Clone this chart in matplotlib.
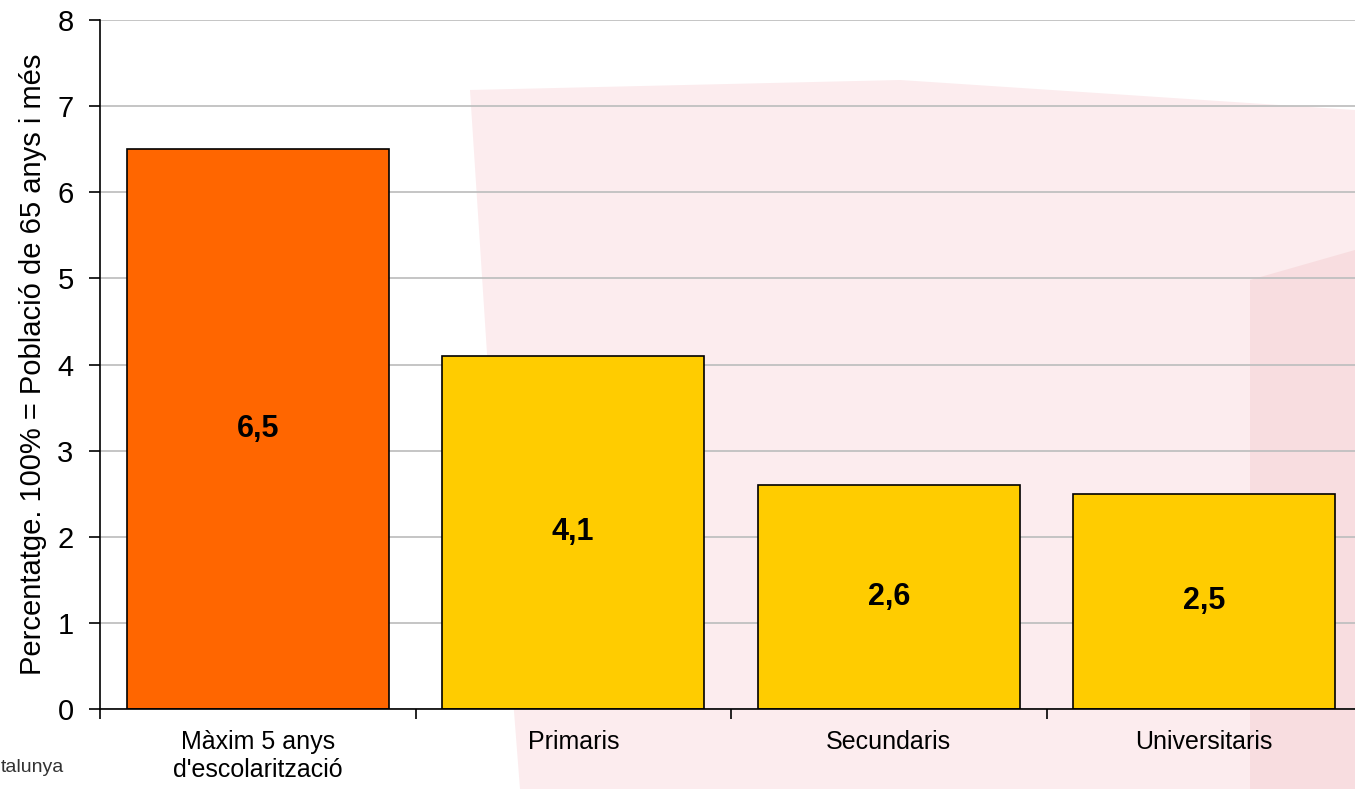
import matplotlib.pyplot as plt
from matplotlib.patches import Polygon

categories = ["Màxim 5 anys\nd'escolarització", "Primaris", "Secundaris", "Universitaris"]
values = [6.5, 4.1, 2.6, 2.5]
value_labels = ["6,5", "4,1", "2,6", "2,5"]
bar_colors = ["#FF6600", "#FFCC00", "#FFCC00", "#FFCC00"]

plt.rcParams['font.family'] = ['Liberation Sans', 'DejaVu Sans']

W, H = 1355, 789
fig = plt.figure(figsize=(W / 100, H / 100), dpi=100)
fig.patch.set_facecolor('white')

# faded watermark behind the plot (figure pixel coords, y from top)
def px(pts):
    return [(x / W, 1 - y / H) for x, y in pts]

fig.patches.append(Polygon(px([(470, 90), (900, 80), (1355, 110), (1355, 789),
                               (520, 789), (490, 400)]),
                           closed=True, transform=fig.transFigure,
                           facecolor='#fcecee', edgecolor='none', zorder=-2))
fig.patches.append(Polygon(px([(1250, 280), (1355, 250), (1355, 789), (1250, 789)]),
                           closed=True, transform=fig.transFigure,
                           facecolor='#f8dde0', edgecolor='none', zorder=-1))

ax = fig.add_axes([100 / W, 80 / H, 1262 / W, 689 / H])
ax.set_facecolor('none')

x = list(range(len(categories)))
ax.bar(x, values, width=0.83, color=bar_colors, edgecolor='black', linewidth=1.2, zorder=3)

for xi, v, lab in zip(x, values, value_labels):
    ax.text(xi, v / 2, lab, ha='center', va='center', fontsize=22,
            fontweight='bold', color='black', zorder=4)

ax.set_xlim(-0.5, 3.5)
ax.set_ylim(0, 8)
ax.set_yticks(range(0, 9))
ax.yaxis.grid(True, color='#c0c0c0', linewidth=1.3, zorder=0)
ax.set_axisbelow(True)

ax.set_xticks([-0.5, 0.5, 1.5, 2.5, 3.5])
ax.set_xticklabels([])
ax.set_xticks(x, minor=True)
ax.set_xticklabels(categories, minor=True, fontsize=18)
ax.tick_params(axis='x', which='minor', length=0, pad=15)
ax.tick_params(axis='x', which='major', length=7, width=1.2, direction='out')
ax.tick_params(axis='y', length=8, width=1.2, direction='out', pad=11, labelsize=21)

for s in ['top', 'right']:
    ax.spines[s].set_visible(False)
for s in ['left', 'bottom']:
    ax.spines[s].set_linewidth(1.2)
    ax.spines[s].set_zorder(5)

ax.set_ylabel('Percentatge. 100% = Població de 65 anys i més', fontsize=21)
ax.yaxis.set_label_coords(-53 / 1262, 0.5)

# source note fragment at the left edge
fig.text(1 / W, 1 - 768 / H, 'talunya', ha='left', va='center',
         fontsize=14, color='#333333')

fig.savefig('out.png', dpi=100)
